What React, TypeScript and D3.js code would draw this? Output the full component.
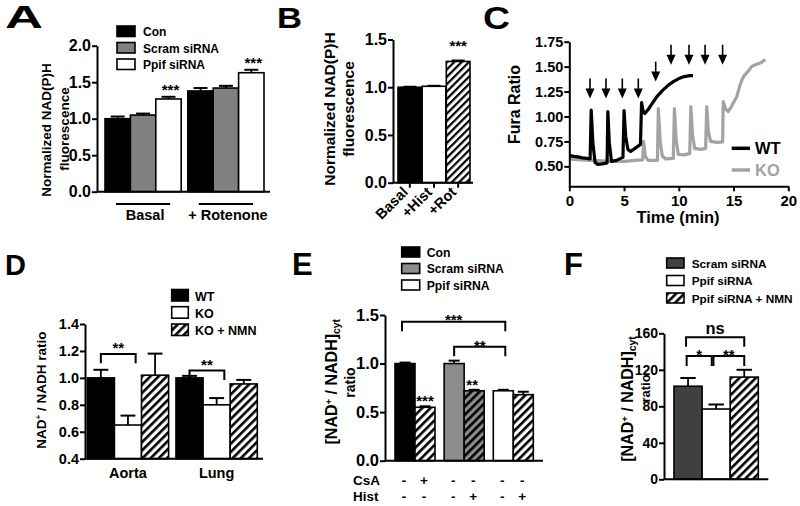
import React, { useEffect, useRef } from 'react';
import * as d3 from 'd3';

const FONT = '"Liberation Sans", Arial, Helvetica, sans-serif';

// ---- Panel A: NAD(P)H fluorescence, siRNA
const groupsA = ['Basal', '+ Rotenone'];
const seriesA = ['Con', 'Scram siRNA', 'Ppif siRNA'];
const meanA = [[1.0, 1.05, 1.27], [1.38, 1.42, 1.63]];
const semA = [[0.03, 0.02, 0.03], [0.04, 0.03, 0.04]];
const ticksA = [0, 0.5, 1.0, 1.5, 2.0];

// ---- Panel B: NAD(P)H fluorescence, treatments
const catsB = ['Basal', '+Hist', '+Rot'];
const meanB = [1.0, 1.01, 1.27];
const semB = [0.005, 0.005, 0.01];
const ticksB = [0, 0.5, 1.0, 1.5];

// ---- Panel C: Fura ratio traces [time (min), ratio]
const wtTrace: [number, number][] = [
  [0, 0.61], [0.4, 0.6], [0.8, 0.595], [1.2, 0.585], [1.6, 0.58], [1.9, 0.575],
  [2.0, 1.065], [2.15, 0.74], [2.35, 0.54], [2.6, 0.52], [3.0, 0.525], [3.45, 0.535],
  [3.52, 1.05], [3.65, 0.74], [3.85, 0.55], [4.3, 0.56], [4.9, 0.59],
  [5.0, 1.06], [5.15, 0.8], [5.35, 0.67], [5.6, 0.65], [6.0, 0.68], [6.5, 0.72],
  [6.6, 1.14], [6.75, 1.05], [6.9, 1.03], [7.2, 1.07], [7.5, 1.12], [8.0, 1.2],
  [8.5, 1.26], [9.0, 1.31], [9.5, 1.35], [10.0, 1.38], [10.5, 1.4], [11.0, 1.41], [11.3, 1.41],
];
const koTrace: [number, number][] = [
  [0, 0.575], [1, 0.565], [2, 0.56], [3, 0.555], [4, 0.55], [5, 0.55], [6, 0.56], [6.7, 0.565],
  [6.78, 0.75], [6.95, 0.6], [7.2, 0.56], [8.05, 0.56],
  [8.13, 1.08], [8.3, 0.75], [8.5, 0.6], [8.8, 0.575], [9.5, 0.58],
  [9.6, 1.08], [9.75, 0.78], [9.95, 0.62], [10.5, 0.615], [11.0, 0.63],
  [11.1, 1.1], [11.25, 0.82], [11.45, 0.68], [12.0, 0.67], [12.45, 0.68],
  [12.55, 1.1], [12.7, 0.85], [12.9, 0.75], [13.5, 0.74], [14.0, 0.745],
  [14.06, 1.15], [14.25, 1.08], [14.5, 1.05], [14.8, 1.1], [15.3, 1.2], [15.6, 1.32],
  [15.9, 1.4], [16.3, 1.45], [16.65, 1.5], [17.0, 1.52], [17.5, 1.54], [17.9, 1.57],
];
const arrowTimes = [1.89, 3.35, 4.84, 6.3, 7.89, 9.29, 10.93, 12.4, 14.0];
const arrowTips = [1.18, 1.18, 1.18, 1.18, 1.35, 1.52, 1.52, 1.52, 1.52];
const ticksCx = [0, 5, 10, 15, 20];
const ticksCy = [0.5, 0.75, 1.0, 1.25, 1.5, 1.75];

// ---- Panel D: NAD+/NADH ratio in tissue
const groupsD = ['Aorta', 'Lung'];
const seriesD = ['WT', 'KO', 'KO + NMN'];
const meanD = [[1.0, 0.65, 1.02], [1.0, 0.8, 0.955]];
const semD = [[0.06, 0.07, 0.16], [0.015, 0.05, 0.03]];
const ticksD = [0.4, 0.6, 0.8, 1.0, 1.2, 1.4];

// ---- Panel E: cytosolic NAD+/NADH
const groupsE = ['Con', 'Scram siRNA', 'Ppif siRNA'];
const treatE = ['none', 'treated'];
const meanE = [[1.0, 0.55], [1.0, 0.72], [0.72, 0.68]];
const semE = [[0.01, 0.01], [0.03, 0.01], [0.01, 0.03]];
const csaE = ['-', '+', '-', '-', '-', '-'];
const histE = ['-', '-', '-', '+', '-', '+'];
const ticksE = [0, 0.5, 1.0, 1.5];

// ---- Panel F: cytosolic NAD+/NADH with NMN
const catsF = ['Scram siRNA', 'Ppif siRNA', 'Ppif siRNA + NMN'];
const meanF = [102, 77, 112];
const semF = [9, 5, 8];
const ticksF = [0, 40, 80, 120, 160];

function txt(g: any, x: number, y: number, s: string, size: number, anchor = 'start', fill = '#000') {
  return g.append('text').attr('x', x).attr('y', y).attr('font-size', size)
    .attr('font-weight', 'bold').attr('text-anchor', anchor).attr('fill', fill).text(s);
}

function rotLabel(g: any, x: number, y: number, size: number) {
  return g.append('text').attr('transform', `translate(${x},${y}) rotate(-90)`)
    .attr('text-anchor', 'middle').attr('font-size', size).attr('font-weight', 'bold');
}

// "[NAD+ / NADH]cyt" or "NAD+ / NADH ratio"
function nadLabel(t: any, bracketed: boolean) {
  t.append('tspan').text(bracketed ? '[NAD' : 'NAD');
  t.append('tspan').attr('font-size', '0.6em').attr('dy', '-0.5em').text('+');
  t.append('tspan').attr('dy', '0.3em').text(bracketed ? ' / NADH]' : ' / NADH ratio');
  if (bracketed) t.append('tspan').attr('font-size', '0.65em').attr('dy', '0.25em').text('cyt');
}

function yAxis(g: any, scale: any, x: number, ticks: number[], fmt: any, size: number) {
  const ax = g.append('g').attr('transform', `translate(${x},0)`)
    .call(d3.axisLeft(scale).tickValues(ticks).tickFormat(fmt).tickSize(5).tickSizeOuter(0).tickPadding(1));
  ax.attr('font-family', FONT).attr('font-size', size).attr('font-weight', 'bold');
  ax.selectAll('path,line').attr('stroke', '#000').attr('stroke-width', 2);
  ax.selectAll('text').attr('fill', '#000');
  return ax;
}

function hLine(g: any, x1: number, x2: number, y: number, w = 2) {
  g.append('line').attr('x1', x1).attr('x2', x2).attr('y1', y).attr('y2', y)
    .attr('stroke', '#000').attr('stroke-width', w);
}

function bar(g: any, x: number, w: number, y: any, base: number, mean: number, sem: number, fill: string) {
  const cx = x + w / 2;
  const ye = y(mean + sem);
  const cw = w * 0.55;
  g.append('line').attr('x1', cx).attr('x2', cx).attr('y1', y(mean)).attr('y2', ye)
    .attr('stroke', '#000').attr('stroke-width', 1.8);
  g.append('line').attr('x1', cx - cw / 2).attr('x2', cx + cw / 2).attr('y1', ye).attr('y2', ye)
    .attr('stroke', '#000').attr('stroke-width', 2);
  g.append('rect').attr('x', x).attr('y', y(mean)).attr('width', w).attr('height', y(base) - y(mean))
    .attr('fill', fill).attr('stroke', '#000').attr('stroke-width', 1.6);
}

function bracket(g: any, xa: number, xb: number, yTop: number, leg: number, label: string, size: number, dy: number) {
  g.append('path').attr('d', `M${xa},${yTop + leg}V${yTop}H${xb}V${yTop + leg}`)
    .attr('fill', 'none').attr('stroke', '#000').attr('stroke-width', 2);
  txt(g, (xa + xb) / 2, yTop + dy, label, size, 'middle');
}

function legend(g: any, x: number, tops: number[], w: number, h: number, labels: string[], fills: string[], size: number, tx: number) {
  labels.forEach((l, i) => {
    g.append('rect').attr('x', x).attr('y', tops[i]).attr('width', w).attr('height', h)
      .attr('fill', fills[i]).attr('stroke', '#000').attr('stroke-width', 1.6);
    txt(g, tx, tops[i] + h - 0.5, l, size);
  });
}

function draw(svg: any) {
  svg.attr('font-family', FONT);
  const defs = svg.append('defs');
  const hatch = (id: string, bg: string, size: number, stroke: number) => {
    const p = defs.append('pattern').attr('id', id).attr('patternUnits', 'userSpaceOnUse')
      .attr('width', size).attr('height', size).attr('patternTransform', 'rotate(45)');
    p.append('rect').attr('width', size).attr('height', size).attr('fill', bg);
    p.append('rect').attr('width', stroke).attr('height', size).attr('fill', '#000');
  };
  hatch('hatchB', '#fff', 5.2, 2.2);
  hatch('hatchW', '#fff', 5.8, 2.6);
  hatch('hatchG', '#8c8c8c', 5.8, 2.6);

  svg.append('rect').attr('width', 800).attr('height', 506).attr('fill', '#fff');

  // panel letters
  txt(svg, 5, 28, 'A', 32).attr('textLength', 38).attr('lengthAdjust', 'spacingAndGlyphs');
  txt(svg, 277, 28, 'B', 30).attr('textLength', 25).attr('lengthAdjust', 'spacingAndGlyphs');
  txt(svg, 483, 29, 'C', 32).attr('textLength', 27).attr('lengthAdjust', 'spacingAndGlyphs');
  txt(svg, 5, 275, 'D', 29);
  txt(svg, 292, 275, 'E', 31);
  txt(svg, 564, 275, 'F', 31);

  // ---------- A
  const gA = svg.append('g');
  const yA = d3.scaleLinear().domain([0, 2]).range([191.7, 45.7]);
  const x0A = d3.scaleBand().domain(groupsA).range([105, 264]).paddingInner(0.08);
  const x1A = d3.scaleBand().domain(seriesA).range([0, x0A.bandwidth()]);
  const fillA = ['#000', '#808080', '#fff'];
  groupsA.forEach((grp, gi) => {
    seriesA.forEach((s, si) => {
      bar(gA, x0A(grp)! + x1A(s)!, x1A.bandwidth(), yA, 0, meanA[gi][si], semA[gi][si], fillA[si]);
    });
    const gx = x0A(grp)!;
    hLine(gA, gx + 11, gx + x0A.bandwidth() - 11, 204, 1.8);
    txt(gA, gx + x0A.bandwidth() / 2 + 2, 219.5, grp, 14.5, 'middle');
    const px = gx + x1A('Ppif siRNA')! + x1A.bandwidth() / 2 + 2;
    txt(gA, px, yA(meanA[gi][2] + semA[gi][2]) - 2, '***', 15, 'middle');
  });
  yAxis(gA, yA, 97, ticksA, d3.format('.1f'), 16);
  hLine(gA, 97, 270, yA(0));
  rotLabel(gA, 51, 130, 13.5).text('Normalized NAD(P)H');
  rotLabel(gA, 69, 129, 13.5).text('fluorescence');
  legend(gA, 117, [26, 42.5, 59], 18, 10.5, seriesA, fillA, 12, 143);

  // ---------- B
  const gB = svg.append('g');
  const yB = d3.scaleLinear().domain([0, 1.5]).range([182.7, 39.5]);
  const xB = d3.scaleBand().domain(catsB).range([398, 470]).paddingInner(0.02);
  const fillB = ['#000', '#fff', 'url(#hatchB)'];
  catsB.forEach((c, i) => {
    bar(gB, xB(c)!, xB.bandwidth(), yB, 0, meanB[i], semB[i], fillB[i]);
    const cx = xB(c)! + xB.bandwidth() / 2;
    gB.append('line').attr('x1', cx).attr('x2', cx).attr('y1', yB(0)).attr('y2', yB(0) + 5)
      .attr('stroke', '#000').attr('stroke-width', 2);
    txt(gB, 0, 0, c, 14.5, 'end').attr('transform', `translate(${cx - 1},${193}) rotate(-45)`);
  });
  txt(gB, xB('+Rot')! + xB.bandwidth() / 2, yB(meanB[2] + semB[2]) - 9.5, '***', 15, 'middle');
  yAxis(gB, yB, 393, ticksB, d3.format('.1f'), 16);
  hLine(gB, 393, 473, yB(0));
  rotLabel(gB, 335, 109, 15.5).text('Normalized NAD(P)H');
  rotLabel(gB, 354, 109, 15.5).text('fluorescence');

  // ---------- C
  const gC = svg.append('g');
  const xC = d3.scaleLinear().domain([0, 20]).range([569.3, 788.3]);
  const yC = d3.scaleLinear().domain([0.3, 1.75]).range([186.3, 41.7]);
  const line = d3.line<[number, number]>().x(d => xC(d[0])).y(d => yC(d[1]));
  gC.append('path').attr('d', line(koTrace)).attr('fill', 'none').attr('stroke', '#a3a3a3')
    .attr('stroke-width', 3.2).attr('stroke-linejoin', 'round');
  gC.append('path').attr('d', line(wtTrace)).attr('fill', 'none').attr('stroke', '#000')
    .attr('stroke-width', 3.2).attr('stroke-linejoin', 'round');
  arrowTimes.forEach((t, i) => {
    const ax = xC(t);
    const tip = yC(arrowTips[i]);
    gC.append('line').attr('x1', ax).attr('x2', ax).attr('y1', tip - 20).attr('y2', tip - 8)
      .attr('stroke', '#000').attr('stroke-width', 1.6);
    gC.append('path').attr('d', `M${ax - 4.5},${tip - 10}L${ax + 4.5},${tip - 10}L${ax},${tip}Z`).attr('fill', '#000');
  });
  yAxis(gC, yC, 569.3, ticksCy, d3.format('.2f'), 14.5);
  const axC = gC.append('g').attr('transform', `translate(0,${yC(0.3)})`)
    .call(d3.axisBottom(xC).tickValues(ticksCx).tickSize(5).tickSizeOuter(0).tickPadding(4));
  axC.attr('font-family', FONT).attr('font-size', 15).attr('font-weight', 'bold');
  axC.selectAll('path,line').attr('stroke', '#000').attr('stroke-width', 2);
  axC.selectAll('text').attr('fill', '#000');
  txt(gC, 678, 223, 'Time (min)', 16.5, 'middle');
  rotLabel(gC, 520, 104.5, 16).text('Fura Ratio');
  hLine(gC, 731.7, 750, 148.3, 3.5);
  txt(gC, 755, 154, 'WT', 16.5);
  gC.append('line').attr('x1', 731.7).attr('x2', 750).attr('y1', 170).attr('y2', 170)
    .attr('stroke', '#a3a3a3').attr('stroke-width', 3.5);
  txt(gC, 755, 176, 'KO', 16.5, 'start', '#a3a3a3');

  // ---------- D
  const gD = svg.append('g');
  const yD = d3.scaleLinear().domain([0.4, 1.4]).range([458.7, 324]);
  const x0D = d3.scaleBand().domain(groupsD).range([87.3, 257.3]).paddingInner(0.083);
  const x1D = d3.scaleBand().domain(seriesD).range([0, x0D.bandwidth()]);
  const fillD = ['#000', '#fff', 'url(#hatchW)'];
  const bracketTopD = [1.178, 1.054];
  groupsD.forEach((grp, gi) => {
    seriesD.forEach((s, si) => {
      bar(gD, x0D(grp)! + x1D(s)!, x1D.bandwidth(), yD, 0.4, meanD[gi][si], semD[gi][si], fillD[si]);
    });
    const c = (s: string) => x0D(grp)! + x1D(s)! + x1D.bandwidth() / 2;
    bracket(gD, c('WT'), c('KO') + 7.7, yD(bracketTopD[gi]), 9.3, '**', 15, -1);
    txt(gD, x0D(grp)! + x0D.bandwidth() / 2, 478, grp, 14.5, 'middle');
  });
  yAxis(gD, yD, 85, ticksD, d3.format('.1f'), 14.5);
  hLine(gD, 85, 263, yD(0.4));
  nadLabel(rotLabel(gD, 45.5, 390, 13.5), false);
  legend(gD, 171.7, [289.5, 306.7, 324], 16.6, 11.5, seriesD, fillD, 12.5, 195);

  // ---------- E
  const gE = svg.append('g');
  const yE = d3.scaleLinear().domain([0, 1.5]).range([460.7, 315]);
  const x0E = d3.scaleBand().domain(groupsE).range([395, 533.3]).paddingInner(0.186);
  const x1E = d3.scaleBand().domain(treatE).range([0, x0E.bandwidth()]);
  const fillE = ['#000', '#8c8c8c', '#fff'];
  const hatchE = ['url(#hatchW)', 'url(#hatchG)', 'url(#hatchW)'];
  const cE = (gi: number, ti: number) => x0E(groupsE[gi])! + x1E(treatE[ti])! + x1E.bandwidth() / 2;
  groupsE.forEach((grp, gi) => {
    treatE.forEach((t, ti) => {
      bar(gE, x0E(grp)! + x1E(t)!, x1E.bandwidth(), yE, 0, meanE[gi][ti], semE[gi][ti], ti === 0 ? fillE[gi] : hatchE[gi]);
      const k = gi * 2 + ti;
      txt(gE, cE(gi, ti) - 1, 484.5, csaE[k], 13.5, 'middle');
      txt(gE, cE(gi, ti) - 1, 501, histE[k], 13.5, 'middle');
    });
  });
  txt(gE, cE(0, 1), yE(meanE[0][1] + semE[0][1]), '***', 15, 'middle');
  txt(gE, cE(1, 1) - 2, yE(meanE[1][1] + semE[1][1]), '**', 15, 'middle');
  bracket(gE, cE(0, 0) - 3, cE(2, 0) + 2, yE(1.43), 9.5, '***', 15, 3);
  bracket(gE, cE(1, 0), cE(2, 0) + 2, yE(1.173), 9.5, '**', 15, 4);
  txt(gE, 353, 484.5, 'CsA', 13.5);
  txt(gE, 353, 501, 'Hist', 13.5);
  yAxis(gE, yE, 385, ticksE, d3.format('.1f'), 16.5);
  hLine(gE, 385, 543, yE(0));
  nadLabel(rotLabel(gE, 337, 381.7, 16), true);
  rotLabel(gE, 355, 382.5, 14).text('ratio');
  legend(gE, 401.7, [247, 263.5, 280], 18, 10, groupsE, fillE, 12.2, 426.7);

  // ---------- F
  const gF = svg.append('g');
  const yF = d3.scaleLinear().domain([0, 160]).range([479.3, 333.3]);
  const xF = d3.scaleBand().domain(catsF).range([674, 758.3]);
  const fillF = ['#404040', '#fff', 'url(#hatchW)'];
  const cF = (i: number) => xF(catsF[i])! + xF.bandwidth() / 2;
  catsF.forEach((c, i) => bar(gF, xF(c)!, xF.bandwidth(), yF, 0, meanF[i], semF[i], fillF[i]));
  bracket(gF, cF(0) - 2, cF(2), yF(155.6), 9.4, 'ns', 16.5, -3);
  bracket(gF, cF(0) - 1.4, cF(1) - 4.4, yF(135), 10, '*', 15, 4);
  bracket(gF, cF(1) - 2.7, cF(2), yF(135), 10, '**', 15, 4);
  yAxis(gF, yF, 664, ticksF, d3.format('d'), 14);
  hLine(gF, 664, 768.3, yF(0));
  nadLabel(rotLabel(gF, 633, 399, 16), true);
  rotLabel(gF, 650, 388.5, 13).text('ratio');
  legend(gF, 666.7, [258, 275.5, 293], 17.3, 10, catsF, fillF, 11.8, 691.7);
}

export default function App() {
  const ref = useRef<SVGSVGElement>(null);
  useEffect(() => {
    if (!ref.current) return;
    const svg = d3.select(ref.current);
    svg.selectAll('*').remove();
    draw(svg);
  }, []);
  return (
    <div style={{ position: 'absolute', left: 0, top: 0, width: 800, height: 506, background: '#fff' }}>
      <svg ref={ref} width={800} height={506} style={{ display: 'block' }} />
    </div>
  );
}
